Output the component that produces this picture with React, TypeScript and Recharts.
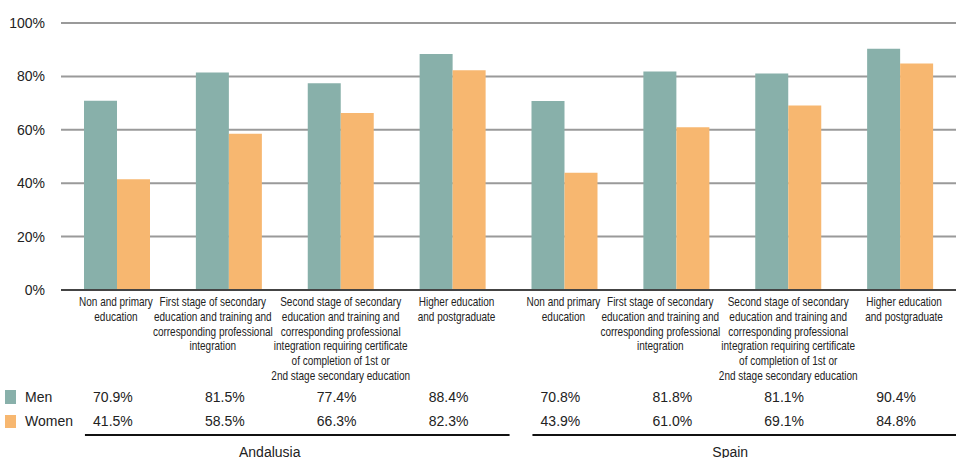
import React from 'react';
import { BarChart, Bar, XAxis, YAxis, CartesianGrid } from 'recharts';

const regions = ['Andalusia', 'Spain'];

const levelLabels: string[][] = [
  ['Non and primary', 'education'],
  ['First stage of secondary', 'education and training and', 'corresponding professional', 'integration'],
  [
    'Second stage of secondary',
    'education and training and',
    'corresponding professional',
    'integration requiring certificate',
    'of completion of 1st or',
    '2nd stage secondary education',
  ],
  ['Higher education', 'and postgraduate'],
];

const men = [70.9, 81.5, 77.4, 88.4, 70.8, 81.8, 81.1, 90.4];
const women = [41.5, 58.5, 66.3, 82.3, 43.9, 61.0, 69.1, 84.8];

const yTicks = [0, 20, 40, 60, 80, 100];

const MEN_COLOR = '#88b0aa';
const WOMEN_COLOR = '#f7b770';

const W = 956;
const H = 458;
const LEFT = 61;
const BAND = (W - LEFT) / men.length;
const NARROW = 0.8; // no Arial Narrow installed, squeeze the regular face instead
const labelShift = [-1, -16, 0, 4];
const groupShift = [-15, -2];

const data = men.map((m, i) => ({
  key: `${regions[Math.floor(i / 4)]}-${i}`,
  lines: levelLabels[i % 4],
  men: m,
  women: women[i],
}));

const fmt = (v: number) => `${v.toFixed(1)}%`;

function CategoryTick(props: any) {
  const { x, y, payload } = props;
  const i = payload.index;
  const row = data[i];
  const isFirstOfGroup = i % 4 === 0;
  const g = Math.floor(i / 4);
  return (
    <g>
      <g transform={`translate(${x + labelShift[i % 4]} 0) scale(${NARROW} 1)`}>
        {row.lines.map((line, k) => (
          <text
            key={k}
            x={0}
            y={y + 12 + k * 14.7}
            dy="0.35em"
            textAnchor="middle"
            fontSize={12.5}
            fill="#222"
          >
            {line}
          </text>
        ))}
      </g>
      <text x={x - 4} y={y + 107} dy="0.35em" textAnchor="middle" fontSize={14} fill="#222">
        {fmt(row.men)}
      </text>
      <text x={x - 4} y={y + 131} dy="0.35em" textAnchor="middle" fontSize={14} fill="#222">
        {fmt(row.women)}
      </text>
      {isFirstOfGroup && (
        <g>
          <line x1={x - 32} x2={x + 3 * BAND + 57} y1={y + 145} y2={y + 145} stroke="#111" strokeWidth={2} />
          <text
            x={x + 1.5 * BAND + groupShift[g]}
            y={y + 162}
            dy="0.35em"
            textAnchor="middle"
            fontSize={14}
            fill="#222"
          >
            {regions[g]}
          </text>
        </g>
      )}
      {i === 0 && (
        <g>
          <rect x={5} y={y + 100} width={11} height={14} fill={MEN_COLOR} />
          <text x={25} y={y + 107} dy="0.35em" fontSize={14} fill="#222">
            Men
          </text>
          <rect x={5} y={y + 125} width={11} height={13} fill={WOMEN_COLOR} />
          <text x={25} y={y + 131} dy="0.35em" fontSize={14} fill="#222">
            Women
          </text>
        </g>
      )}
    </g>
  );
}

export default function App() {
  return (
    <div style={{ position: 'absolute', left: 0, top: 0, width: W, height: H, background: '#fff' }}>
      <BarChart
        width={W}
        height={H}
        data={data}
        margin={{ top: 23, right: 0, bottom: 0, left: 0 }}
        barCategoryGap={23}
        barGap={0}
        style={{ fontFamily: "'Liberation Sans', Arial, sans-serif" }}
      >
        <CartesianGrid vertical={false} stroke="#9a9a9a" strokeWidth={2} />
        <YAxis
          domain={[0, 100]}
          ticks={yTicks}
          width={LEFT}
          axisLine={false}
          tickLine={false}
          tickSize={0}
          tickMargin={16}
          tickFormatter={(v: number) => `${v}%`}
          tick={{ fontSize: 14, fill: '#222' }}
          interval={0}
        />
        <XAxis
          dataKey="key"
          height={168}
          interval={0}
          tickLine={false}
          tickSize={0}
          tickMargin={0}
          axisLine={{ stroke: '#444', strokeWidth: 2 }}
          tick={<CategoryTick />}
        />
        <Bar dataKey="men" fill={MEN_COLOR} isAnimationActive={false} />
        <Bar dataKey="women" fill={WOMEN_COLOR} isAnimationActive={false} />
      </BarChart>
    </div>
  );
}
